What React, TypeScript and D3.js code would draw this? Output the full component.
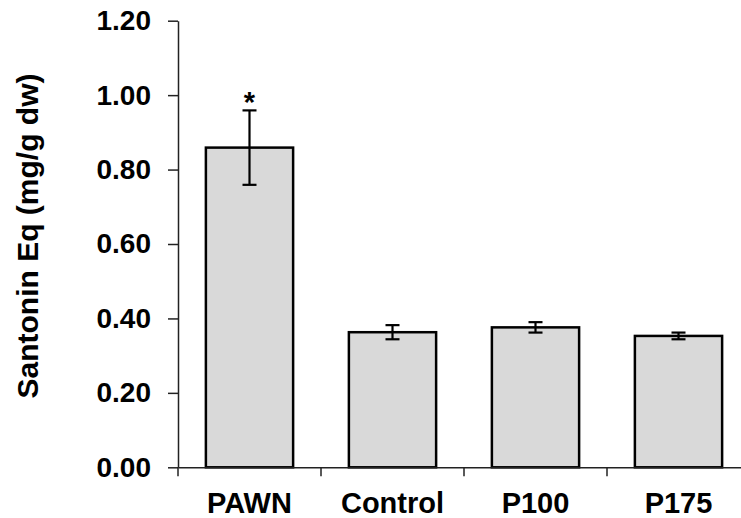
import React, { useEffect, useRef } from 'react';
import * as d3 from 'd3';

const categories = ['PAWN', 'Control', 'P100', 'P175'];
const means = [0.859, 0.363, 0.376, 0.353];
const errors = [0.1, 0.019, 0.014, 0.009];
const significant = [true, false, false, false];
const yTicks = [0, 0.2, 0.4, 0.6, 0.8, 1.0, 1.2];

const WIDTH = 741;
const HEIGHT = 518;
const FONT = "Arial, 'Liberation Sans', sans-serif";

export default function App() {
  const svgRef = useRef<SVGSVGElement>(null);

  useEffect(() => {
    if (!svgRef.current) return;
    const svg = d3.select(svgRef.current);
    svg.selectAll('*').remove();

    const xScale = d3.scaleBand<string>()
      .domain(categories)
      .range([178, 750])
      .paddingInner(0.39)
      .paddingOuter(0.195);

    const yScale = d3.scaleLinear()
      .domain([0, 1.2])
      .range([467.3, 20.7]);

    // Bars
    svg.selectAll('.bar')
      .data(categories)
      .enter()
      .append('rect')
      .attr('class', 'bar')
      .attr('x', d => xScale(d)!)
      .attr('width', xScale.bandwidth())
      .attr('y', (d, i) => yScale(means[i]))
      .attr('height', (d, i) => yScale(0) - yScale(means[i]))
      .attr('fill', '#d9d9d9')
      .attr('stroke', '#000')
      .attr('stroke-width', 2.5);

    // Error bars (+ significance star)
    const cap = 7;
    categories.forEach((c, i) => {
      const cx = xScale(c)! + xScale.bandwidth() / 2;
      const top = yScale(means[i] + errors[i]);
      const bottom = yScale(means[i] - errors[i]);
      const g = svg.append('g')
        .attr('stroke', '#000')
        .attr('stroke-width', 2.2);
      g.append('line').attr('x1', cx).attr('x2', cx).attr('y1', top).attr('y2', bottom);
      g.append('line').attr('x1', cx - cap).attr('x2', cx + cap).attr('y1', top).attr('y2', top);
      g.append('line').attr('x1', cx - cap).attr('x2', cx + cap).attr('y1', bottom).attr('y2', bottom);

      if (significant[i]) {
        svg.append('text')
          .attr('x', cx)
          .attr('y', top + 2)
          .attr('text-anchor', 'middle')
          .attr('font-family', FONT)
          .attr('font-weight', 'bold')
          .attr('font-size', 29)
          .attr('fill', '#000')
          .text('*');
      }
    });

    // Y axis
    const yAxis = svg.append('g')
      .attr('transform', 'translate(178,0)')
      .call(d3.axisLeft(yScale).tickValues(yTicks).tickFormat(d3.format('.2f')).tickSize(10).tickSizeOuter(0).tickPadding(17));
    yAxis.select('.domain').attr('stroke', '#222').attr('stroke-width', 1.5);
    yAxis.selectAll('.tick line').attr('stroke', '#222').attr('stroke-width', 1.5);
    yAxis.selectAll('.tick text')
      .attr('font-family', FONT)
      .attr('font-weight', 'bold')
      .attr('font-size', 28)
      .attr('fill', '#000');

    // X axis
    const xAxis = svg.append('g')
      .attr('transform', `translate(0,${yScale(0)})`)
      .call(d3.axisBottom(xScale).tickSize(0).tickSizeOuter(0).tickPadding(25));
    xAxis.select('.domain').attr('stroke', '#222').attr('stroke-width', 1.5);
    xAxis.selectAll('.tick text')
      .attr('font-family', FONT)
      .attr('font-weight', 'bold')
      .attr('font-size', 29)
      .attr('fill', '#000');

    // Category separator ticks
    const step = xScale.step();
    const separators = categories.map(c => xScale(c)! - (xScale.paddingInner() * step) / 2);
    svg.selectAll('.sep')
      .data(separators)
      .enter()
      .append('line')
      .attr('x1', d => d)
      .attr('x2', d => d)
      .attr('y1', yScale(0))
      .attr('y2', yScale(0) + 9)
      .attr('stroke', '#222')
      .attr('stroke-width', 1.5);

    // Y axis title
    svg.append('text')
      .attr('transform', `translate(38,236) rotate(-90)`)
      .attr('text-anchor', 'middle')
      .attr('font-family', FONT)
      .attr('font-weight', 'bold')
      .attr('font-size', 30)
      .attr('fill', '#000')
      .text('Santonin Eq (mg/g dw)');
  }, []);

  return (
    <div style={{ position: 'absolute', left: 0, top: 0, background: '#fff' }}>
      <svg ref={svgRef} width={WIDTH} height={HEIGHT} />
    </div>
  );
}
